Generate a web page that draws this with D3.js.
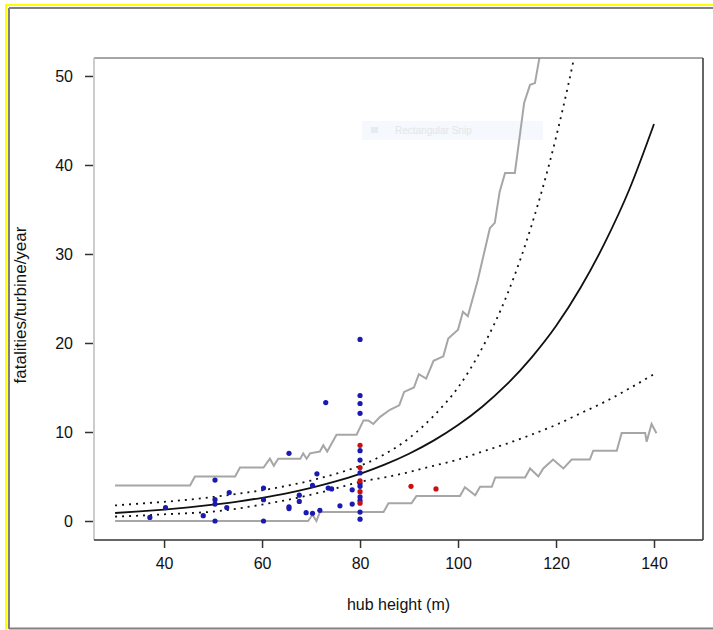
<!DOCTYPE html>
<html><head><meta charset="utf-8">
<script src="https://cdn.jsdelivr.net/npm/d3@7"></script>
<style>html,body{margin:0;padding:0;background:#fff;}svg{display:block;}</style>
</head><body>
<svg id="c" width="713" height="630"></svg>
<script>
// ---- data ----
const xTicks = [40, 60, 80, 100, 120, 140];
const yTicks = [0, 10, 20, 30, 40, 50];

const blueX = [37.1,40.3,48,50.4,50.4,50.4,50.4,52.8,53.3,60.3,60.3,60.3,65.5,65.5,65.5,67.6,67.6,69.0,70.3,70.3,71.2,71.8,73,73.5,74.2,75.9,78.4,78.4,
               80,80,80,80,80,80,80,80,80,80,80,80,80];
const blueY = [0.4,1.5,0.6,4.6,2.4,1.9,0,1.5,3.2,3.7,2.4,0,7.6,1.6,1.4,2.9,2.2,0.93,0.87,4.0,5.3,1.2,13.3,3.7,3.6,1.7,3.5,1.9,
               20.4,14.1,13.2,12.1,7.9,6.85,5.4,4.2,3.9,2.7,2.3,1.0,0.2];
const redX = [80,80,80,80,80,90.4,95.5];
const redY = [8.5,6.0,4.5,3.3,2.0,3.9,3.6];

const fitX   = [30,35,40,45,50,55,60,65,70,75,80,85,90,95,100,105,110,115,120,125,130,135,140];
const fitY   = [0.90,1.07,1.28,1.53,1.83,2.18,2.61,3.11,3.72,4.44,5.30,6.33,7.56,9.03,10.78,12.87,15.37,18.36,21.9,26.2,31.3,37.3,44.6];
const ciUpY  = [1.75,1.95,2.15,2.4,2.7,3.05,3.45,3.95,4.55,5.3,6.2,7.5,9.3,11.8,15.0,19.5,25.4,33.2,43.1,55.7,72,93,120];
const ciLoY  = [0.5,0.6,0.75,0.88,1.05,1.4,1.85,2.35,2.95,3.65,4.4,4.9,5.5,6.2,6.9,7.8,8.7,9.7,10.8,12.1,13.4,14.9,16.5];

const piUpX = [30,45.3,46.3,54.5,55.5,60.3,61.6,62.4,63.3,67.8,68.4,69.1,69.8,71.8,72.5,73.3,73.9,75.2,79.3,80.7,81.7,82.7,84.1,86.1,88,89,91,92,93.5,95,97,98,100,101,102,104,106.5,107.5,108.5,109.6,111.6,113.5,114.7,115.7,116.6,118];
const piUpY = [4,4,5,5,6,6,7,6.2,7,7,7.6,7,7.6,7.8,8.5,7.8,8.4,9.7,9.7,11.3,11.3,10.9,11.7,12.5,13,14.5,15,16.5,16,18,18.5,20.5,21.5,23.5,23,27,32.9,33.5,37,39.1,39.1,47,49,49.2,52,56];
const piLoX = [30,69.4,70.3,71.1,71.8,84.8,85.8,90.5,91.5,100.4,101.4,103.5,104.5,106.9,107.6,113.7,114.7,116.4,117.4,119.4,121.5,123.2,126.9,127.6,132.4,133.4,138.2,138.5,139.5,140.5];
const piLoY = [0,0,0.7,0,1,1,2,2,2.8,2.8,3.8,2.9,3.85,3.85,4.9,4.9,5.9,5.0,5.9,6.9,5.9,6.9,6.9,7.9,7.9,9.9,9.9,8.9,10.9,9.85];

// ---- drawing ----
const svg = d3.select("#c");
const L = 94, R = 703, T = 58, B = 540;
const x = d3.scaleLinear().domain([25.7, 150]).range([L, R]);
const y = d3.scaleLinear().domain([-2.135, 52.02]).range([B, T]);
const font = "'Liberation Sans', Arial, Helvetica, sans-serif";

// outer frame (yellow + gray)
svg.append("rect").attr("x",6).attr("y",5).attr("width",720).attr("height",640).attr("fill","none")
  .attr("stroke","#ffff00").attr("stroke-width",2);
svg.append("line").attr("x1",9).attr("x2",713).attr("y1",8).attr("y2",8).attr("stroke","#808080").attr("stroke-width",2);
svg.append("line").attr("x1",9).attr("x2",9).attr("y1",8).attr("y2",629).attr("stroke","#808080").attr("stroke-width",2);
svg.append("line").attr("x1",9).attr("x2",713).attr("y1",628.5).attr("y2",628.5).attr("stroke","#808080").attr("stroke-width",2);

// faint snip overlay
svg.append("rect").attr("x",362).attr("y",121).attr("width",181).attr("height",19).attr("fill","#f5f8fc");
svg.append("rect").attr("x",371).attr("y",127).attr("width",7).attr("height",6).attr("fill","#e6ebf2");
svg.append("text").attr("x",395).attr("y",134).attr("font-family",font).attr("font-size",10)
  .attr("fill","#e3e6ea").text("Rectangular Snip");

// clip
svg.append("clipPath").attr("id","pc").append("rect").attr("x",L).attr("y",T).attr("width",R-L).attr("height",B-T);
const g = svg.append("g").attr("clip-path","url(#pc)");

const line = d3.line().x(d=>x(d[0])).y(d=>y(d[1]));
const smooth = d3.line().x(d=>x(d[0])).y(d=>y(d[1])).curve(d3.curveMonotoneX);

g.append("path").datum(d3.zip(piUpX, piUpY)).attr("d", line).attr("fill","none").attr("stroke","#a6a6a6").attr("stroke-width",2);
g.append("path").datum(d3.zip(piLoX, piLoY)).attr("d", line).attr("fill","none").attr("stroke","#a6a6a6").attr("stroke-width",2);
g.append("path").datum(d3.zip(fitX, ciUpY)).attr("d", smooth).attr("fill","none").attr("stroke","#111").attr("stroke-width",1.8).attr("stroke-dasharray","2,5");
g.append("path").datum(d3.zip(fitX, ciLoY)).attr("d", smooth).attr("fill","none").attr("stroke","#111").attr("stroke-width",1.8).attr("stroke-dasharray","2,5");
g.append("path").datum(d3.zip(fitX, fitY)).attr("d", smooth).attr("fill","none").attr("stroke","#111").attr("stroke-width",1.8);

g.selectAll("circle.b").data(d3.zip(blueX, blueY)).join("circle").attr("class","b")
  .attr("cx",d=>x(d[0])).attr("cy",d=>y(d[1])).attr("r",2.6).attr("fill","#1a1ab0");
g.selectAll("circle.r").data(d3.zip(redX, redY)).join("circle").attr("class","r")
  .attr("cx",d=>x(d[0])).attr("cy",d=>y(d[1])).attr("r",2.6).attr("fill","#c81010");

// box
svg.append("line").attr("x1",L).attr("x2",R).attr("y1",T).attr("y2",T).attr("stroke","#888").attr("stroke-width",1.5);
svg.append("line").attr("x1",L).attr("x2",L).attr("y1",T).attr("y2",B).attr("stroke","#bbb").attr("stroke-width",1.5);
svg.append("line").attr("x1",R).attr("x2",R).attr("y1",T).attr("y2",B).attr("stroke","#333").attr("stroke-width",1.5);
svg.append("line").attr("x1",L).attr("x2",R).attr("y1",B).attr("y2",B).attr("stroke","#333").attr("stroke-width",1.5);

// axes
const xa = svg.append("g").attr("transform",`translate(0,${B})`)
  .call(d3.axisBottom(x).tickValues(xTicks).tickSize(8).tickPadding(10).tickSizeOuter(0));
xa.select(".domain").remove();
xa.selectAll("line").attr("stroke","#333").attr("stroke-width",1.5);
xa.selectAll("text").attr("font-family",font).attr("font-size",16).attr("fill","#111");

const ya = svg.append("g").attr("transform",`translate(${L-1},0)`)
  .call(d3.axisLeft(y).tickValues(yTicks).tickSize(8).tickPadding(12).tickSizeOuter(0));
ya.select(".domain").remove();
ya.selectAll("line").attr("stroke","#333").attr("stroke-width",1.5);
ya.selectAll("text").attr("font-family",font).attr("font-size",16).attr("fill","#111");

svg.append("text").attr("x",(L+R)/2).attr("y",610).attr("text-anchor","middle")
  .attr("font-family",font).attr("font-size",16).attr("fill","#111").text("hub height (m)");
svg.append("text").attr("transform",`translate(26,305) rotate(-90)`).attr("text-anchor","middle")
  .attr("font-family",font).attr("font-size",17).attr("fill","#111").text("fatalities/turbine/year");
</script>
</body></html>
